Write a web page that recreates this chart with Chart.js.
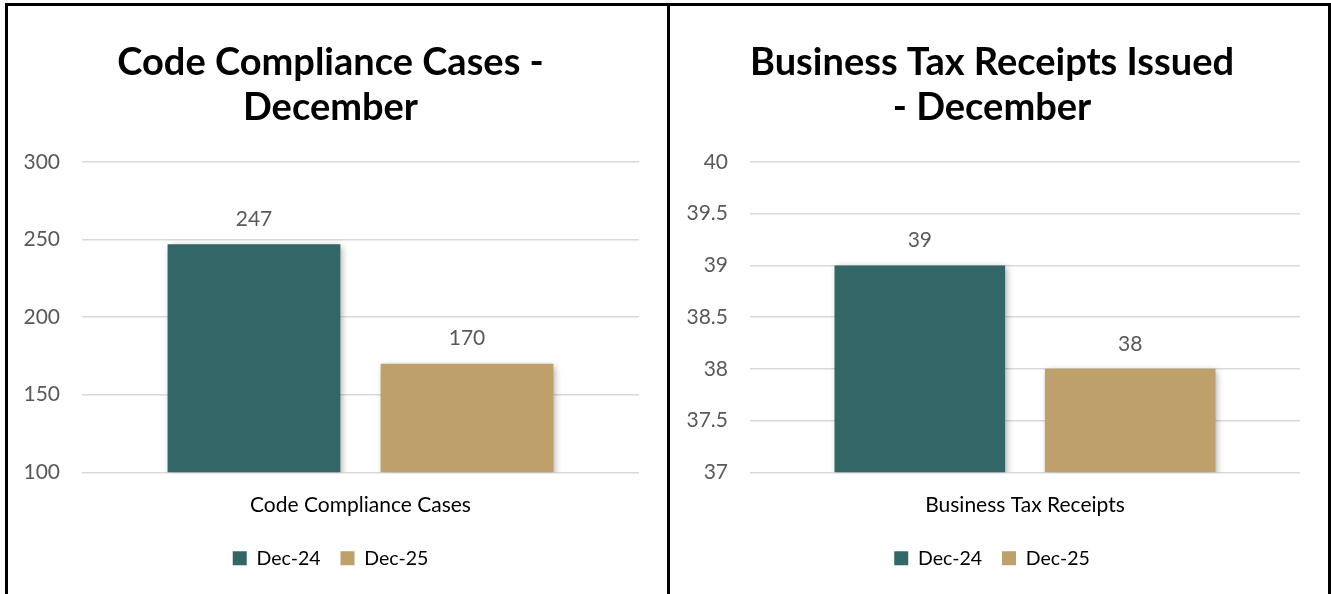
<!DOCTYPE html>
<html>
<head>
<meta charset="utf-8">
<script src="https://cdn.jsdelivr.net/npm/chart.js@4.4.1/dist/chart.umd.min.js"></script>
<style>
  html, body { margin: 0; padding: 0; background: #fff; overflow: hidden; }
  .frame { position: absolute; left: 5px; top: 3px; width: 1320px; height: 620px;
           border: 3px solid #000; border-bottom: none; }
  .divider { position: absolute; left: 667px; top: 3px; width: 3px; height: 620px; background: #000; }
  .panel { position: absolute; top: 6px; height: 588px; }
  #p1 { left: 8px; width: 659px; }
  #p2 { left: 670px; width: 658px; }
</style>
</head>
<body>
<div class="frame"></div>
<div class="divider"></div>
<div class="panel" id="p1"><canvas id="codeChart"></canvas></div>
<div class="panel" id="p2"><canvas id="btrChart"></canvas></div>

<script>
// data
const seriesLabels = ['Dec-24', 'Dec-25'];
const seriesColors = ['#336666', '#BEA06A'];

const codeCategory = ['Code Compliance Cases'];
const codeDec24 = [247];
const codeDec25 = [170];

const btrCategory = ['Business Tax Receipts'];
const btrDec24 = [39];
const btrDec25 = [38];

const FONT = 'Lato, "Open Sans", sans-serif';

// soft shadow under the bars + value labels on top
const barExtras = {
  id: 'barExtras',
  beforeDatasetsDraw(chart) {
    const ctx = chart.ctx;
    ctx.save();
    ctx.shadowColor = 'rgba(0,0,0,0.35)';
    ctx.shadowBlur = 7;
    ctx.shadowOffsetX = 2;
    ctx.shadowOffsetY = 2;
  },
  afterDatasetsDraw(chart) {
    const ctx = chart.ctx;
    ctx.restore();
    ctx.save();
    ctx.font = '21px ' + FONT;
    ctx.fillStyle = '#595959';
    ctx.textAlign = 'center';
    ctx.textBaseline = 'middle';
    chart.data.datasets.forEach((ds, i) => {
      chart.getDatasetMeta(i).data.forEach((bar, j) => {
        ctx.fillText(ds.data[j], bar.x, bar.y - 25);
      });
    });
    ctx.restore();
  }
};

function makeChart(id, title, category, a, b, min, max, step, axisWidth) {
  const ctx = document.getElementById(id);
  return new Chart(ctx, {
    type: 'bar',
    data: {
      labels: [''],
      datasets: [
        { label: seriesLabels[0], data: a, backgroundColor: seriesColors[0] },
        { label: seriesLabels[1], data: b, backgroundColor: seriesColors[1] }
      ]
    },
    options: {
      responsive: true,
      maintainAspectRatio: false,
      animation: false,
      categoryPercentage: 0.765,
      barPercentage: 0.811,
      layout: { padding: { left: 14, right: 28, top: 0, bottom: 16 } },
      plugins: {
        title: {
          display: true,
          text: title,
          color: '#000',
          font: { family: FONT, size: 38, weight: 'bold', lineHeight: 1.17 },
          padding: { top: 35, bottom: 32 }
        },
        legend: {
          position: 'bottom',
          labels: {
            color: '#000',
            boxWidth: 14,
            boxHeight: 14,
            padding: 20,
            font: { family: FONT, size: 19.5 }
          }
        },
        tooltip: { enabled: false }
      },
      scales: {
        x: {
          grid: { display: false },
          border: { display: false },
          ticks: { display: false },
          title: {
            display: true,
            text: category[0],
            color: '#000',
            font: { family: FONT, size: 21 },
            padding: { top: 12, bottom: 11 }
          }
        },
        y: {
          min: min,
          max: max,
          afterFit: (scale) => { scale.width = axisWidth; },
          ticks: {
            stepSize: step,
            color: '#595959',
            padding: 22,
            font: { family: FONT, size: 21 },
            callback: (v) => String(v)
          },
          grid: { color: '#d9d9d9', lineWidth: 1.4, drawTicks: false },
          border: { display: false }
        }
      }
    },
    plugins: [barExtras]
  });
}

makeChart('codeChart', ['Code Compliance Cases -', 'December'], codeCategory,
  codeDec24, codeDec25, 100, 300, 50, 60);
makeChart('btrChart', ['Business Tax Receipts Issued', '- December'], btrCategory,
  btrDec24, btrDec25, 37, 40, 0.5, 66);
</script>
</body>
</html>
